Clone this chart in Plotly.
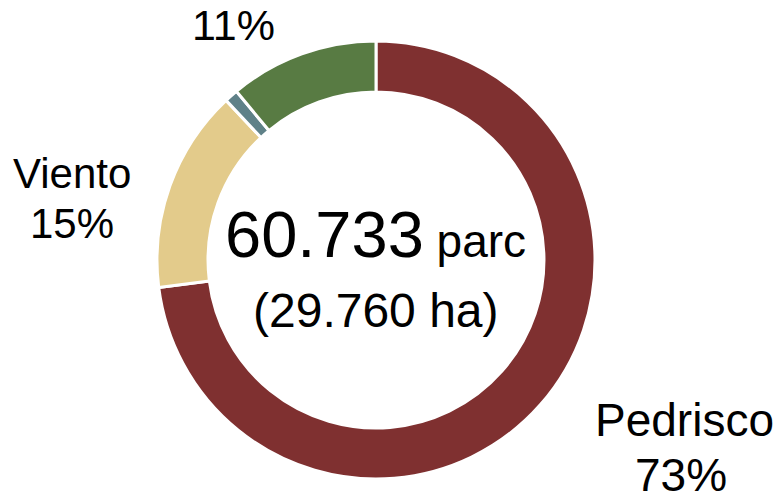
import plotly.graph_objects as go

# Data
categories = ["Pedrisco", "Viento", "Otros", "Resto"]
values = [73, 15, 1, 11]
colors = ["#7F3030", "#E3CB8B", "#5F8188", "#587B43"]
total_parcels = "60.733"
total_area = "29.760"

# The page body has an 8px default margin; the figure is sized to fill the rest.
OFF = 8
W, H = 781 - OFF, 497 - OFF
cx, cy, R = 376 - OFF, 260 - OFF, 219
hole = 0.767

fig = go.Figure(go.Pie(
    labels=categories,
    values=values,
    sort=False,
    direction="clockwise",
    rotation=0,
    hole=hole,
    textinfo="none",
    marker=dict(colors=colors, line=dict(color="white", width=3)),
    domain=dict(x=[(cx - R) / W, (cx + R) / W], y=[1 - (cy + R) / H, 1 - (cy - R) / H]),
    showlegend=False,
    hoverinfo="label+percent",
))

FONT = "Liberation Sans, Arial, sans-serif"

def px_ann(text, x, y, size):
    # x, y given in reference-picture pixels
    fig.add_annotation(
        text=text, x=(x - OFF) / W, y=1 - (y - OFF) / H, xref="paper", yref="paper",
        xanchor="center", yanchor="middle", showarrow=False,
        font=dict(family=FONT, size=size, color="black"),
    )

pct = {c: f"{v}%" for c, v in zip(categories, values)}

# outer labels
px_ann(pct["Resto"], 233, 25, 43)
px_ann(categories[1], 72, 173.4, 42)
px_ann(pct["Viento"], 72, 223.4, 42)
px_ann(categories[0], 684, 420, 46)
px_ann(pct["Pedrisco"], 681, 475, 46)

# center text
px_ann(f"<span style='font-size:65px'>{total_parcels}</span> parc", 375, 234.4, 46)
px_ann(f"({total_area} ha)", 376, 310, 48)

fig.update_layout(
    width=W, height=H,
    margin=dict(l=0, r=0, t=0, b=0),
    paper_bgcolor="white",
    plot_bgcolor="white",
)

fig.write_html("out.html")
